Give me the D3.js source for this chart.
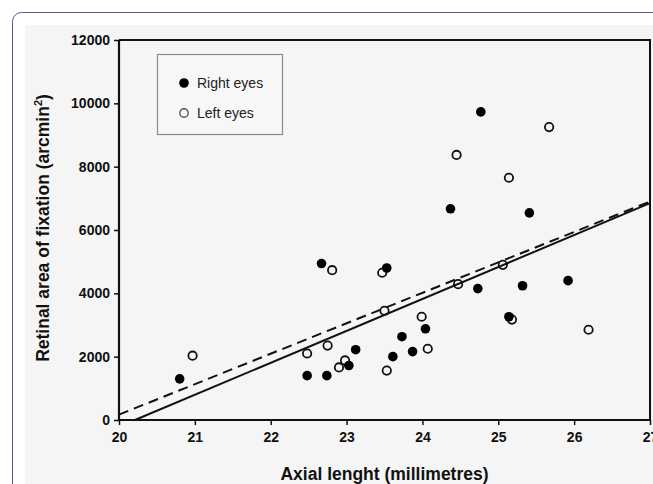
<!DOCTYPE html>
<meta charset="utf-8">
<style>
  body { margin: 0; padding: 0; background: #fff; }
  svg { display: block; font-family: 'Liberation Sans', Arial, sans-serif; }
  .tick text { font-weight: bold; font-size: 14px; fill: #111; }
  .tick line { stroke: #111; stroke-width: 1.5; }
  .domain { display: none; }
</style>
<body>
<script src="https://d3js.org/d3.v7.min.js"></script>
<div id="chart"></div>
<script>
// axial length (mm) / retinal area (arcmin^2)
var rightX = [20.80, 22.67, 22.48, 22.74, 23.53, 24.73, 24.04, 23.73, 23.12, 23.87, 23.61, 23.03, 25.32, 25.92, 25.14, 24.77, 24.37, 25.41];
var rightY = [1300, 4940, 1400, 1400, 4800, 4150, 2880, 2630, 2220, 2160, 2000, 1720, 4240, 4400, 3260, 9730, 6670, 6540];

var leftX = [20.97, 22.81, 22.48, 22.75, 22.90, 23.47, 24.47, 23.50, 23.99, 24.07, 22.98, 23.53, 25.06, 25.18, 26.19, 25.67, 24.45, 25.14];
var leftY = [2030, 4730, 2100, 2350, 1660, 4650, 4290, 3450, 3260, 2250, 1880, 1560, 4900, 3170, 2850, 9250, 8370, 7650];

// fitted lines, endpoints
var solidLine = [[20.21, 0], [27, 6850]];
var dashedLine = [[20, 170], [27, 6900]];

var xTicks = [20, 21, 22, 23, 24, 25, 26, 27];
var yTicks = [0, 2000, 4000, 6000, 8000, 10000, 12000];

var width = 653, height = 484;

var svg = d3.select("#chart").append("svg")
    .attr("width", width)
    .attr("height", height);

// page frame
svg.append("rect")
    .attr("x", 12.5).attr("y", 12.5)
    .attr("width", 700).attr("height", 520)
    .attr("rx", 9)
    .attr("fill", "#fff")
    .attr("stroke", "#5b53a6")
    .attr("stroke-width", 1);

svg.append("rect")
    .attr("x", 25).attr("y", 25)
    .attr("width", 640).attr("height", 470)
    .attr("fill", "#f5f5f5");

var x = d3.scaleLinear().domain([20, 27]).range([119, 650]);
var y = d3.scaleLinear().domain([0, 12000]).range([420, 40]);

svg.append("g")
    .attr("transform", "translate(0,420)")
    .call(d3.axisBottom(x).tickValues(xTicks).tickSize(5).tickPadding(7).tickFormat(d3.format("d")));

svg.append("g")
    .attr("transform", "translate(119,0)")
    .call(d3.axisLeft(y).tickValues(yTicks).tickSize(5).tickPadding(4).tickFormat(d3.format("d")));

// frame of the plot
svg.append("path")
    .attr("d", "M" + x(20) + "," + y(12000) + "H" + x(27) + "V" + y(0))
    .attr("fill", "none")
    .attr("stroke", "#111")
    .attr("stroke-width", 2);
svg.append("path")
    .attr("d", "M" + x(20) + "," + y(12000) + "V" + y(0) + "H" + x(27))
    .attr("fill", "none")
    .attr("stroke", "#111")
    .attr("stroke-width", 2.2);

var line = d3.line()
    .x(function(d) { return x(d[0]); })
    .y(function(d) { return y(d[1]); });

svg.append("path")
    .attr("d", line(dashedLine))
    .attr("fill", "none")
    .attr("stroke", "#111")
    .attr("stroke-width", 2)
    .attr("stroke-dasharray", "10,6");

svg.append("path")
    .attr("d", line(solidLine))
    .attr("fill", "none")
    .attr("stroke", "#111")
    .attr("stroke-width", 2);

var rightPts = rightX.map(function(d, i) { return [d, rightY[i]]; });
var leftPts = leftX.map(function(d, i) { return [d, leftY[i]]; });

svg.selectAll(".left")
    .data(leftPts)
    .enter().append("circle")
    .attr("class", "left")
    .attr("cx", function(d) { return x(d[0]); })
    .attr("cy", function(d) { return y(d[1]); })
    .attr("r", 4.2)
    .attr("fill", "none")
    .attr("stroke", "#111")
    .attr("stroke-width", 1.8);

svg.selectAll(".right")
    .data(rightPts)
    .enter().append("circle")
    .attr("class", "right")
    .attr("cx", function(d) { return x(d[0]); })
    .attr("cy", function(d) { return y(d[1]); })
    .attr("r", 4.8)
    .attr("fill", "#000");

// legend
var legend = svg.append("g");
legend.append("rect")
    .attr("x", 157.5).attr("y", 54.5)
    .attr("width", 125).attr("height", 80)
    .attr("fill", "#f7f7f7")
    .attr("stroke", "#8a8a8a")
    .attr("stroke-width", 1.2);
legend.append("circle")
    .attr("cx", 184).attr("cy", 83).attr("r", 4.8)
    .attr("fill", "#000");
legend.append("circle")
    .attr("cx", 184).attr("cy", 113).attr("r", 4.2)
    .attr("fill", "none").attr("stroke", "#555").attr("stroke-width", 1.4);
legend.append("text")
    .attr("x", 197).attr("y", 88)
    .attr("font-size", "14px").attr("fill", "#222")
    .text("Right eyes");
legend.append("text")
    .attr("x", 197).attr("y", 118)
    .attr("font-size", "14px").attr("fill", "#222")
    .text("Left eyes");

// axis titles
svg.append("text")
    .attr("x", 384.5).attr("y", 480)
    .attr("text-anchor", "middle")
    .attr("font-weight", "bold").attr("font-size", "17.5px").attr("fill", "#111")
    .text("Axial lenght (millimetres)");

var yt = svg.append("text")
    .attr("transform", "translate(49,228) rotate(-90)")
    .attr("text-anchor", "middle")
    .attr("font-weight", "bold").attr("font-size", "17.5px").attr("fill", "#111");
yt.append("tspan").text("Retinal area of fixation (arcmin");
yt.append("tspan").attr("font-size", "11px").attr("dy", "-7").text("2");
yt.append("tspan").attr("dy", "7").text(")");
</script>
</body>
